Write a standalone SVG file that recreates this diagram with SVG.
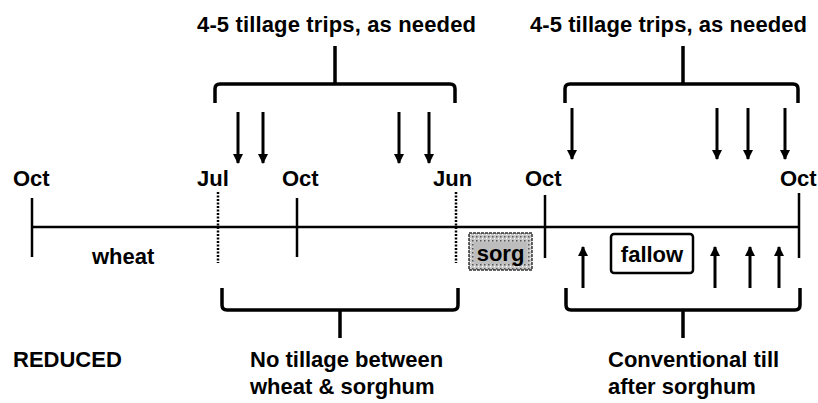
<svg xmlns="http://www.w3.org/2000/svg" width="818" height="403" viewBox="0 0 818 403">
<style>
text{font-family:"Liberation Sans",Arial,sans-serif;font-weight:bold;font-size:22px;fill:#000}
.ln{stroke:#000;stroke-width:2.5;fill:none}
.br{stroke:#000;stroke-width:3.5;fill:none;stroke-linejoin:round}
.dot{stroke:#000;stroke-width:2.5;stroke-dasharray:2 1.5;fill:none}
.ar{stroke:#000;stroke-width:3;fill:none}
</style>
<defs>
<marker id="ah" viewBox="0 0 10 10" refX="9" refY="5" markerWidth="3.4" markerHeight="3.6" orient="auto" markerUnits="strokeWidth">
<path d="M0,0 L10,5 L0,10 z" fill="#000"/>
</marker>
<pattern id="noise" width="4" height="4" patternUnits="userSpaceOnUse">
<rect width="4" height="4" fill="#c8c8c8"/>
<rect x="0" y="0" width="1.5" height="1.5" fill="#555"/>
<rect x="2" y="2" width="1" height="1" fill="#fff"/>
</pattern>
</defs>
<rect width="818" height="403" fill="#fff"/>
<g id="titles">
<text x="197" y="32" textLength="279">4-5 tillage trips, as needed</text>
<text x="530" y="32" textLength="277">4-5 tillage trips, as needed</text>
</g>
<g id="months">
<text x="13" y="186">Oct</text>
<text x="197" y="186">Jul</text>
<text x="282" y="186">Oct</text>
<text x="433" y="186">Jun</text>
<text x="525" y="186">Oct</text>
<text x="780" y="186">Oct</text>
</g>
<g id="timeline">
<line class="ln" x1="32" y1="227" x2="800" y2="227"/>
<line class="ln" x1="32" y1="198" x2="32" y2="257"/>
<line class="dot" x1="218" y1="192" x2="218" y2="263"/>
<line class="ln" x1="297" y1="198" x2="297" y2="257"/>
<line class="dot" x1="456" y1="192" x2="456" y2="263"/>
<line class="ln" x1="545" y1="195" x2="545" y2="258"/>
<line class="ln" x1="799" y1="193" x2="799" y2="258"/>
</g>
<g id="wheat"><text x="92" y="264">wheat</text></g>
<g id="sorg">
<rect x="469" y="233" width="63" height="37" fill="url(#noise)" stroke="#333" stroke-width="1.5" stroke-dasharray="3 1"/>
<rect x="474" y="242" width="53" height="22" fill="#bdbdbd"/>
<text x="500.5" y="261" text-anchor="middle">sorg</text>
</g>
<g id="fallow">
<rect x="611" y="234" width="82" height="39" rx="3" class="ln"/>
<text x="652" y="262" text-anchor="middle">fallow</text>
</g>
<g id="connectors">
<path class="br" d="M215,103 V89 Q215,84 220,84 H450 Q455,84 455,89 V103 M335,84 V46"/>
<path class="br" d="M565,103 V89 Q565,84 570,84 H793 Q798,84 798,89 V103 M683,84 V46"/>
<path class="br" d="M222,288 V305 Q222,310 227,310 H453 Q458,310 458,305 V288 M340,310 V338"/>
<path class="br" d="M566,288 V305 Q566,310 571,310 H795 Q800,310 800,305 V288 M683,310 V338"/>
<line class="ar" x1="238" y1="112" x2="238" y2="163" marker-end="url(#ah)"/>
<line class="ar" x1="263" y1="112" x2="263" y2="163" marker-end="url(#ah)"/>
<line class="ar" x1="399" y1="112" x2="399" y2="163" marker-end="url(#ah)"/>
<line class="ar" x1="429" y1="112" x2="429" y2="163" marker-end="url(#ah)"/>
<line class="ar" x1="572" y1="108" x2="572" y2="159" marker-end="url(#ah)"/>
<line class="ar" x1="717" y1="108" x2="717" y2="159" marker-end="url(#ah)"/>
<line class="ar" x1="748" y1="108" x2="748" y2="159" marker-end="url(#ah)"/>
<line class="ar" x1="785" y1="108" x2="785" y2="159" marker-end="url(#ah)"/>
<line class="ar" x1="583" y1="288" x2="583" y2="247" marker-end="url(#ah)"/>
<line class="ar" x1="715" y1="288" x2="715" y2="247" marker-end="url(#ah)"/>
<line class="ar" x1="750" y1="288" x2="750" y2="247" marker-end="url(#ah)"/>
<line class="ar" x1="779" y1="288" x2="779" y2="247" marker-end="url(#ah)"/>
</g>
<g id="labels">
<text x="13" y="367">REDUCED</text>
<text x="250" y="367">No tillage between</text>
<text x="250" y="394">wheat &amp; sorghum</text>
<text x="608" y="367">Conventional till</text>
<text x="608" y="394">after sorghum</text>
</g>
</svg>
